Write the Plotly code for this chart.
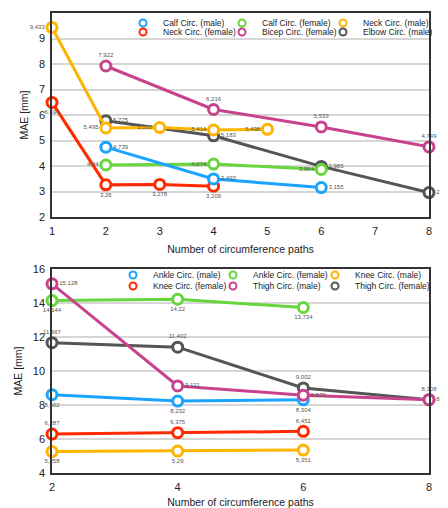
import plotly.graph_objects as go
from plotly.subplots import make_subplots

# ---------------- data: top chart ----------------
calf_m_x = [2, 4, 6]
calf_m_y = [4.739, 3.493, 3.155]
calf_f_x = [2, 4, 6]
calf_f_y = [4.04, 4.074, 3.864]
neck_m_x = [1, 2, 3, 4, 5]
neck_m_y = [9.433, 5.495, 5.508, 5.414, 5.438]
neck_f_x = [1, 2, 3, 4]
neck_f_y = [6.494, 3.26, 3.278, 3.209]
bicep_f_x = [2, 4, 6, 8]
bicep_f_y = [7.922, 6.216, 5.533, 4.749]
elbow_m_x = [2, 4, 6, 8]
elbow_m_y = [5.775, 5.183, 3.985, 2.959]

# ---------------- data: bottom chart ----------------
ankle_m_x = [2, 4, 6]
ankle_m_y = [8.602, 8.232, 8.304]
ankle_f_x = [2, 4, 6]
ankle_f_y = [14.144, 14.22, 13.734]
knee_m_x = [2, 4, 6]
knee_m_y = [5.258, 5.29, 5.351]
knee_f_x = [2, 4, 6]
knee_f_y = [6.287, 6.375, 6.451]
thigh_m_x = [2, 4, 6, 8]
thigh_m_y = [15.128, 9.121, 8.579, 8.308]
thigh_f_x = [2, 4, 6, 8]
thigh_f_y = [11.667, 11.402, 9.002, 8.314]

top_xticks = [1, 2, 3, 4, 5, 6, 7, 8]
top_yticks = [2, 3, 4, 5, 6, 7, 8, 9, 10]
bot_xticks = [2, 4, 6, 8]
bot_yticks = [4, 6, 8, 10, 12, 14, 16]

BLUE = "#1aa3ff"
GREEN = "#66d63a"
ORANGE = "#ffb400"
RED = "#ff2a00"
MAGENTA = "#c8438c"
GRAY = "#555555"

def lab(vals):
    return [f"{v:g}".replace(".", ",") for v in vals]

fig = make_subplots(rows=2, cols=1, vertical_spacing=0.0)

top_series = [
    ("Elbow Circ. (male)", elbow_m_x, elbow_m_y, GRAY, ["middle right"] * 4),
    ("Bicep Circ. (female)", bicep_f_x, bicep_f_y, MAGENTA, ["top center"] * 4),
    ("Neck Circ. (female)", neck_f_x, neck_f_y, RED, ["bottom center"] * 4),
    ("Neck Circ. (male)", neck_m_x, neck_m_y, ORANGE, ["middle left"] * 5),
    ("Calf Circ. (female)", calf_f_x, calf_f_y, GREEN, ["middle left"] * 3),
    ("Calf Circ. (male)", calf_m_x, calf_m_y, BLUE, ["middle right"] * 3),
]
bot_series = [
    ("Thigh Circ. (female)", thigh_f_x, thigh_f_y, GRAY, ["top center", "top center", "top center", "middle right"]),
    ("Ankle Circ. (female)", ankle_f_x, ankle_f_y, GREEN, ["bottom center"] * 3),
    ("Knee Circ. (female)", knee_f_x, knee_f_y, RED, ["top center"] * 3),
    ("Knee Circ. (male)", knee_m_x, knee_m_y, ORANGE, ["bottom center"] * 3),
    ("Ankle Circ. (male)", ankle_m_x, ankle_m_y, BLUE, ["bottom center"] * 3),
    ("Thigh Circ. (male)", thigh_m_x, thigh_m_y, MAGENTA, ["middle right", "middle right", "middle right", "top center"]),
]

for row, series in ((1, top_series), (2, bot_series)):
    for name, xs, ys, col, tp in series:
        fig.add_trace(go.Scatter(
            x=xs, y=ys, mode="lines+markers+text", name=name, showlegend=False,
            line=dict(color=col, width=3),
            marker=dict(symbol="circle", size=10, color="white", line=dict(color=col, width=3)),
            text=lab(ys), textposition=tp, cliponaxis=False,
            textfont=dict(size=6, color="#555555", family="Liberation Sans"),
        ), row=row, col=1)

FONT = "Liberation Sans, Arial, sans-serif"
OFF = 8  # page body margin
W, H = 448 - OFF, 508 - OFF
# page-pixel plot edges
P_LEFT, P_RIGHT = 52, 429
TOP_T, TOP_B = 13, 217
BOT_T, BOT_B = 269, 473
ml = P_LEFT - OFF
mr = W - (P_RIGHT - OFF)
mt = TOP_T - OFF
mb = H - (BOT_B - OFF)
ph = H - mt - mb
pw = W - ml - mr

def py(page_y):
    return (BOT_B - page_y) / ph

def pxx(page_x):
    return (page_x - P_LEFT) / pw

# legend entries: name, colour, text start (page px x, y)
legend_items = [
    (1, "Calf Circ. (male)", BLUE, 160, 23),
    (1, "Calf Circ. (female)", GREEN, 259, 23),
    (1, "Neck Circ. (male)", ORANGE, 360, 23),
    (1, "Neck Circ. (female)", RED, 160, 32),
    (1, "Bicep Circ. (female)", MAGENTA, 259, 32),
    (1, "Elbow Circ. (male)", GRAY, 360, 32),
    (2, "Ankle Circ. (male)", BLUE, 150, 275),
    (2, "Ankle Circ. (female)", GREEN, 250, 275),
    (2, "Knee Circ. (male)", ORANGE, 352, 275),
    (2, "Knee Circ. (female)", RED, 150, 286),
    (2, "Thigh Circ. (male)", MAGENTA, 250, 286),
    (2, "Thigh Circ. (female)", GRAY, 352, 286),
]

legend_layout = {}
for i, (row, name, col, tx, ty) in enumerate(legend_items):
    lid = "legend" if i == 0 else f"legend{i + 1}"
    fig.add_trace(go.Scatter(
        x=[None], y=[None], mode="markers", name=name, legend=lid,
        marker=dict(symbol="circle", size=7, color="white", line=dict(color=col, width=2)),
    ), row=row, col=1)
    legend_layout[lid] = dict(
        x=pxx(tx - 37), y=py(ty), xanchor="left", yanchor="middle",
        itemwidth=30, font=dict(size=8.5, family=FONT, color="#222"),
        bgcolor="rgba(0,0,0,0)", borderwidth=0,
    )

axis_common = dict(showline=True, mirror=True, linecolor="#333333", linewidth=1.5,
                   ticks="", gridcolor="#d6d6d6", gridwidth=1.5, ticklabelstandoff=3,
                   zeroline=False, tickfont=dict(size=11, family=FONT, color="#222"))

fig.update_layout(
    width=W, height=H, margin=dict(l=ml, r=mr, t=mt, b=mb, autoexpand=False),
    plot_bgcolor="white", paper_bgcolor="white",
    font=dict(family=FONT, color="#222"),
    xaxis=dict(domain=[0, 1], range=[1, 8], tickvals=top_xticks, showgrid=False,
               title=dict(text="Number of circumference paths", font=dict(size=10.5), standoff=10), **axis_common),
    yaxis=dict(domain=[py(TOP_B), 1], range=[2, 10], tickvals=top_yticks, showgrid=True,
               title=dict(text="MAE [mm]", font=dict(size=10.5), standoff=8), **axis_common),
    xaxis2=dict(domain=[0, 1], range=[2, 8], tickvals=bot_xticks, showgrid=False,
                title=dict(text="Number of circumference paths", font=dict(size=10.5), standoff=10), **axis_common),
    yaxis2=dict(domain=[0, py(BOT_T)], range=[4, 16], tickvals=bot_yticks, showgrid=True,
                title=dict(text="MAE [mm]", font=dict(size=10.5), standoff=8), **axis_common),
    **legend_layout,
)

fig.write_html("out.html")
